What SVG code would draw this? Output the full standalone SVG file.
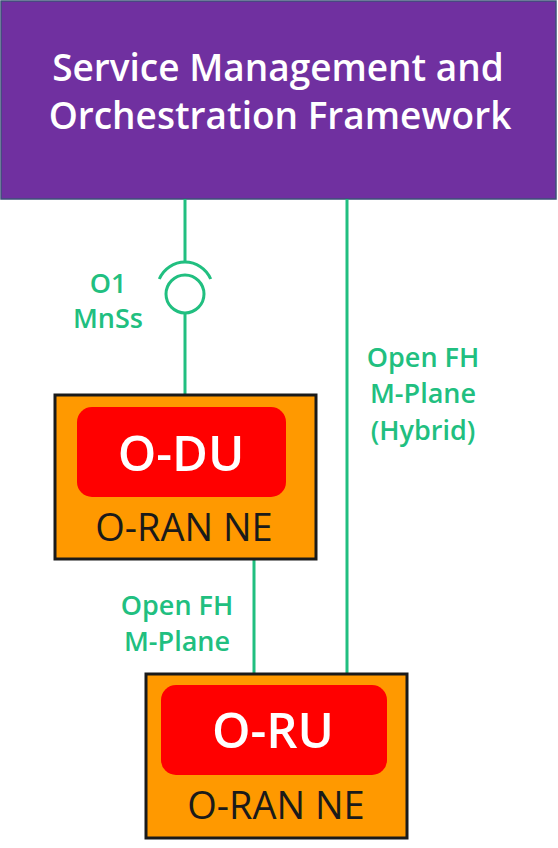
<svg xmlns="http://www.w3.org/2000/svg" width="558" height="848" viewBox="0 0 558 848">
<style>
.lbl{font-family:"Open Sans","Liberation Sans",sans-serif;fill:#21bf80;font-size:27px;font-weight:600;text-anchor:middle}
.wire{stroke:#21bf80;stroke-width:3;fill:none}
.ne{fill:#ff9900;stroke:#1a1a1a;stroke-width:3}
.nf{fill:#ff0000}
.big{font-family:"Open Sans","Liberation Sans",sans-serif;fill:#ffffff;font-size:49px;font-weight:600;text-anchor:middle}
.sub{font-family:"Open Sans","Liberation Sans",sans-serif;fill:#1a1a1a;font-size:38px;text-anchor:middle}
.title{font-family:"Open Sans","Liberation Sans",sans-serif;fill:#ffffff;font-size:37px;font-weight:600;text-anchor:middle}
</style>
<rect width="558" height="848" fill="#ffffff"/>
<g id="smo">
<rect x="1" y="1" width="555" height="198" fill="#7030a0" stroke="#3c5078" stroke-width="1.5"/>
<text class="title" x="278" y="81">Service Management and</text>
<text class="title" x="280" y="129">Orchestration Framework</text>
</g>
<g id="connectors">
<line class="wire" x1="185" y1="199" x2="185" y2="262"/>
<path class="wire" d="M159.3,279 A28,28 0 0 1 210.7,279"/>
<circle class="wire" cx="185" cy="294" r="19"/>
<line class="wire" x1="185" y1="313" x2="185" y2="395"/>
<line class="wire" x1="347" y1="199" x2="347" y2="674"/>
<line class="wire" x1="254" y1="559" x2="254" y2="674"/>
<text class="lbl" x="108" y="293">O1</text>
<text class="lbl" x="108" y="328">MnSs</text>
<text class="lbl" x="177" y="615">Open FH</text>
<text class="lbl" x="177" y="651">M-Plane</text>
<text class="lbl" x="423" y="367">Open FH</text>
<text class="lbl" x="423" y="403">M-Plane</text>
<text class="lbl" x="423" y="440">(Hybrid)</text>
</g>
<g id="odu">
<rect class="ne" x="55" y="395" width="261" height="164"/>
<rect class="nf" x="77" y="407" width="209" height="90" rx="15"/>
<text class="big" x="181" y="471">O-DU</text>
<text class="sub" x="184" y="541">O-RAN NE</text>
</g>
<g id="oru">
<rect class="ne" x="146" y="674" width="261" height="164"/>
<rect class="nf" x="161" y="685" width="226" height="90" rx="15"/>
<text class="big" x="273" y="748">O-RU</text>
<text class="sub" x="276" y="819">O-RAN NE</text>
</g>
</svg>
